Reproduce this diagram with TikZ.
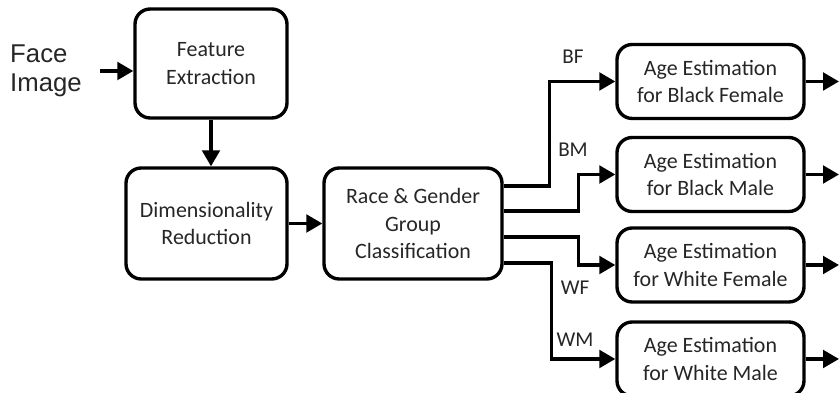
\documentclass[tikz,border=0pt]{standalone}
\usepackage{fontspec}
\setmainfont{Carlito}
\newfontfamily\facefont{Liberation Sans}
\usetikzlibrary{arrows.meta}

\begin{document}
\begin{tikzpicture}[line width=2.4pt, >={Triangle[length=0.4cm,width=0.44cm]},
  box/.style={draw, rounded corners=0.38cm, align=center, inner sep=0pt,
    text=black!85, font=\fontsize{15.6}{19.6}\selectfont},
  stage/.style={box, minimum width=4.675cm, minimum height=1.85cm},
  lab/.style={text=black!85, font=\fontsize{15}{17}\selectfont}]
  \useasboundingbox (0,0) rectangle (20.975,9.825);
  \coordinate (edge) at (20.975,0);
  \node[align=left, text=black!85, font=\facefont\fontsize{18.3}{20.6}\selectfont] (face) at (1.15,8.05) {Face\\Image};
  \node[box, minimum width=3.8cm, minimum height=2.725cm] (fe) at (5.275,8.2375) {Feature\\Extraction};
  \node[box, minimum width=4.025cm, minimum height=2.775cm] (dr) at (5.1625,4.2375) {Dimensionality\\Reduction};
  \node[box, minimum width=4.45cm, minimum height=2.775cm] (rg) at (10.325,4.2375) {Race \& Gender\\Group\\Classification};
  \node[stage] (bf) at (17.7625,7.7875) {Age Estimation\\for Black Female};
  \node[stage] (bm) at (17.7625,5.4625) {Age Estimation\\for Black Male};
  \node[stage] (wf) at (17.7625,3.2) {Age Estimation\\for White Female};
  \node[stage] (wm) at (17.7625,0.85) {Age Estimation\\for White Male};
  \node[lab] (lbf) at (14.325,8.4) {BF};
  \node[lab] (lbm) at (14.325,6.075) {BM};
  \node[lab] (lwf) at (14.375,2.625) {WF};
  \node[lab] (lwm) at (14.375,1.325) {WM};

  \draw[->] ([xshift=0.3cm]face.east) -- (face.east -| fe.west);
  \draw[->] (fe.south) -- (fe.south |- dr.north);
  \draw[->] (dr) -- (rg);
  \draw[->] ([yshift=0.94cm]rg.east) -- ++(1.15,0) |- (bf);
  \draw[->] ([yshift=0.31cm]rg.east) -- ++(1.875,0) |- (bm);
  \draw[->] ([yshift=-0.34cm]rg.east) -- ++(1.875,0) |- (wf);
  \draw[->] ([yshift=-0.99cm]rg.east) -- ++(1.2,0) |- (wm);
  \foreach \n in {bf,bm,wf,wm}
    \draw[->] (\n.east) -- (\n.east -| edge);
\end{tikzpicture}
\end{document}
